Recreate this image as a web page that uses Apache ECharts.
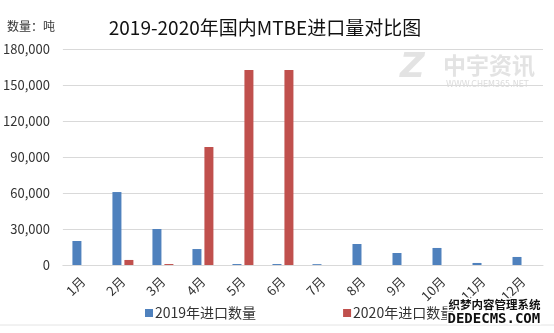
<!DOCTYPE html>
<html>
<head>
<meta charset="utf-8">
<script src="https://cdn.jsdelivr.net/npm/echarts@6/dist/echarts.min.js"></script>
<style>
  html, body { margin: 0; padding: 0; background: #fff; }
  #chart { width: 554px; height: 333px; }
</style>
</head>
<body>
<div id="chart"></div>
<script>
// Monthly MTBE imports (tonnes)
const months = ['1月', '2月', '3月', '4月', '5月', '6月', '7月', '8月', '9月', '10月', '11月', '12月'];
const imports2019 = [20000, 60800, 30000, 13300, 800, 800, 700, 17500, 10000, 14200, 1700, 6700];
const imports2020 = [null, 4200, 800, 98300, 162500, 162500, null, null, null, null, null, null];
const yTicks = [0, 30000, 60000, 90000, 120000, 150000, 180000];

const FONT = '"Noto Sans CJK SC", "Microsoft YaHei", sans-serif';
const chart = echarts.init(document.getElementById('chart'));

chart.setOption({
  animation: false,
  backgroundColor: '#fff',
  textStyle: { fontFamily: FONT },
  title: {
    text: '2019-2020年国内MTBE进口量对比图',
    left: 260,
    textAlign: 'center',
    top: 13,
    textStyle: { fontFamily: FONT, fontSize: 19, fontWeight: 'normal', color: '#111' }
  },
  graphic: [
    { type: 'text', left: 7, top: 20,
      style: { text: '数量：吨', font: '12px ' + FONT, fill: '#333' } },
    // site watermark, top right
    { type: 'text', left: 400, top: 51,
      style: { text: 'Z', font: 'italic bold 34px "DejaVu Sans"', fill: '#e3e3e3' } },
    { type: 'text', left: 443, top: 54,
      style: { text: '中宇资讯', font: 'bold 23px ' + FONT, fill: '#e3e3e3' } },
    { type: 'text', left: 446, top: 81,
      style: { text: 'WWW.CHEM365.NET', font: '8px "DejaVu Sans"', fill: '#dcdcdc' } },
    // bottom border
    { type: 'line', shape: { x1: 0, y1: 325, x2: 554, y2: 325 },
      style: { stroke: '#e4e4e4', lineWidth: 1 } },
    // CMS stamp, bottom right
    { type: 'text', left: 447, top: 297, z: 100,
      style: { text: '织梦内容管理系统', font: 'bold 11.5px ' + FONT, fill: '#111',
               stroke: '#fff', lineWidth: 3 } },
    { type: 'text', left: 446, top: 311, z: 100,
      style: { text: 'DEDECMS.COM', font: 'bold 14px "DejaVu Sans Mono"', fill: '#111',
               stroke: '#fff', lineWidth: 3 } }
  ],
  legend: {
    data: ['2019年进口数量', '2020年进口数量'],
    left: 140,
    top: 301,
    itemWidth: 8,
    itemHeight: 8,
    itemGap: 87,
    icon: 'rect',
    textStyle: { fontFamily: FONT, fontSize: 14, color: '#333', padding: [0, 0, 0, -3] }
  },
  grid: { left: 59, right: 11, top: 49, bottom: 68 },
  xAxis: {
    type: 'category',
    data: months,
    axisLine: { lineStyle: { color: '#d9d9d9' } },
    axisTick: { show: false },
    axisLabel: { rotate: 45, fontSize: 13, color: '#333', margin: 14, fontFamily: FONT }
  },
  yAxis: {
    type: 'value',
    min: 0,
    max: 180000,
    interval: 30000,
    axisLine: { show: false },
    axisTick: { show: false },
    splitLine: { lineStyle: { color: '#d9d9d9' } },
    axisLabel: {
      fontSize: 13, color: '#333', margin: 13, fontFamily: FONT,
      formatter: v => yTicks.includes(v) ? v.toLocaleString('en-US') : ''
    }
  },
  series: [
    {
      name: '2019年进口数量',
      type: 'bar',
      data: imports2019,
      barWidth: 9,
      barGap: '33%',
      itemStyle: { color: '#4f81bd' }
    },
    {
      name: '2020年进口数量',
      type: 'bar',
      data: imports2020,
      barWidth: 9,
      itemStyle: { color: '#c0504d' }
    }
  ]
});
</script>
</body>
</html>
